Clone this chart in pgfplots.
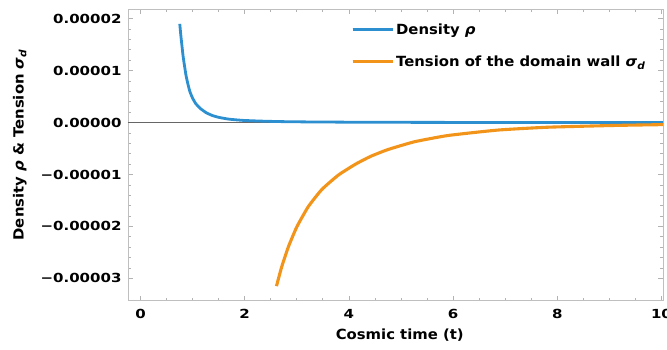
\documentclass[border=0pt]{standalone}
\usepackage{fontspec}
\setmainfont[FakeStretch=1.06]{DejaVu Sans}
\newfontfamily\tickfont[FakeStretch=1.2]{DejaVu Sans}
\usepackage{pgfplots}
\pgfplotsset{compat=1.18}
\definecolor{rhoblue}{RGB}{44,143,208}
\definecolor{sigorange}{RGB}{242,148,26}
\begin{document}
\begin{tikzpicture}
\begin{axis}[
  at={(0pt,0pt)}, anchor=south west,
  scale only axis, width=535pt, height=291.4pt,
  xmin=-0.24, xmax=10.03,
  ymin=-3.43e-5, ymax=2.18e-5,
  xtick={0,2,4,6,8,10},
  xticklabels={0,2,4,6,8,10},
  ytick={-3e-5,-2e-5,-1e-5,0,1e-5,2e-5},
  yticklabels={−0.00003,−0.00002,−0.00001,0.00000,0.00001,0.00002},
  minor x tick num=3, minor y tick num=4,
  tick align=inside,
  major tick length=5pt, minor tick length=3pt,
  every tick/.style={draw=gray!60, line width=0.7pt},
  axis line style={draw=gray!50, line width=0.9pt},
  ticklabel style={font=\tickfont\bfseries\fontsize{12.5}{12.5}\selectfont, text=black},
  yticklabel style={xshift=-3pt},
  xticklabel style={yshift=-5pt},
  scaled y ticks=false,
  extra y ticks={0},
  extra y tick labels={},
  extra y tick style={grid=major, major grid style={draw=gray!80!black, line width=1.3pt}, major tick length=0pt},
  xlabel={Cosmic time (t)},
  ylabel={Density {\itshape ρ} \& Tension {\itshape σ\raisebox{-0.35ex}{\fontsize{10}{10}\selectfont d}}},
  label style={font=\bfseries\fontsize{14}{14}\selectfont},
  xlabel style={at={(axis description cs:0.508,-0.118)}, anchor=center},
  ylabel style={at={(axis description cs:-0.202,0.534)}, anchor=center, rotate=0},
  legend style={draw=none, fill=none, at={(axis description cs:0.411,0.965)}, anchor=north west,
    font=\bfseries\fontsize{14}{14}\selectfont, row sep=16pt, cells={anchor=west}},
  legend image code/.code={\path (0pt,0pt) -- (40pt,0pt); \draw[#1] (0pt,0pt) -- (34pt,0pt);},
  clip=true,
]
\addplot[rhoblue, line width=2.8pt, smooth, tension=0.3] coordinates {
(0.754,1.90e-5) (0.77,1.72e-5) (0.79,1.53e-5) (0.82,1.26e-5) (0.87,0.93e-5)
(0.91,0.74e-5) (0.95,0.59e-5) (1.00,0.47e-5) (1.06,0.365e-5) (1.15,0.27e-5)
(1.26,0.19e-5) (1.38,0.135e-5) (1.51,0.098e-5) (1.70,0.065e-5) (1.96,0.042e-5)
(2.30,0.028e-5) (2.70,0.018e-5) (3.20,0.012e-5) (4.00,0.007e-5) (5.00,0.004e-5)
(6.00,0.0025e-5) (8.00,0.0012e-5) (10.03,0.0007e-5)
};
\addlegendentry{Density {\itshape ρ}}
\addplot[sigorange, line width=3.1pt, smooth, tension=0.3] coordinates {
(2.61,-3.15e-5) (2.71,-2.78e-5) (2.84,-2.39e-5) (3.00,-2.01e-5) (3.22,-1.62e-5)
(3.48,-1.29e-5) (3.80,-1.01e-5) (4.13,-0.80e-5) (4.42,-0.65e-5) (4.75,-0.52e-5)
(5.26,-0.37e-5) (5.90,-0.25e-5) (6.86,-0.145e-5) (7.82,-0.09e-5) (9.10,-0.056e-5)
(10.03,-0.040e-5)
};
\addlegendentry{Tension of the domain wall {\itshape σ\raisebox{-0.35ex}{\fontsize{10}{10}\selectfont d}}}
\end{axis}
\pgfresetboundingbox
\path[use as bounding box] (-128pt,-48.3pt) rectangle (539pt,300.7pt);
\end{tikzpicture}
\end{document}
